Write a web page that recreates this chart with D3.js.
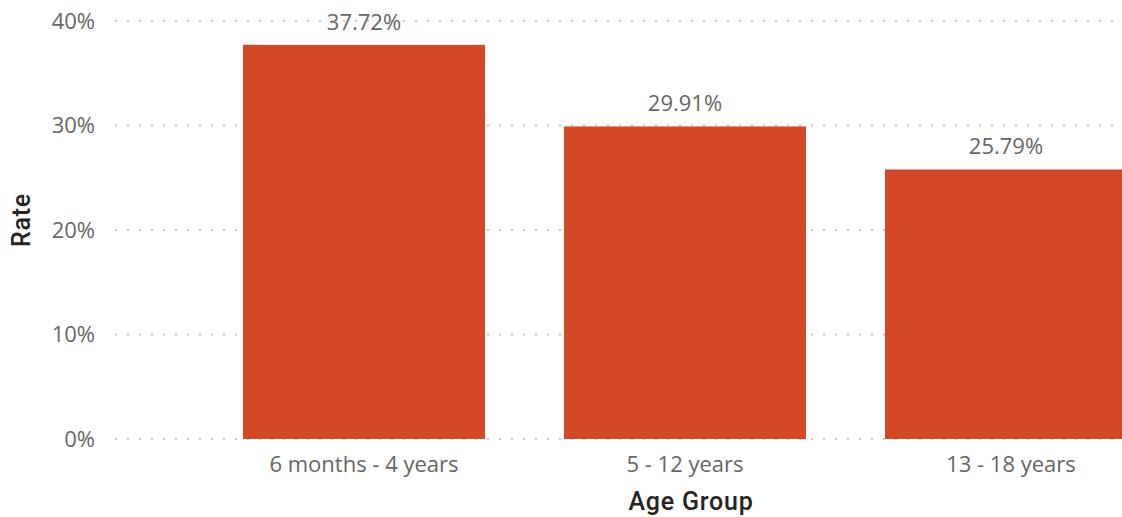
<!DOCTYPE html>
<html><head><meta charset="utf-8">
<script src="https://cdn.jsdelivr.net/npm/d3@7/dist/d3.min.js"></script>
<style>body{margin:0;background:#fff;overflow:hidden}</style>
</head><body>
<svg id="c" width="1122" height="517"></svg>
<script>
const categories = ["6 months - 4 years", "5 - 12 years", "13 - 18 years"];
const rates = [37.72, 29.91, 25.79];
const yTicks = [0, 10, 20, 30, 40];

const svg = d3.select("#c");
const font = "'Open Sans', 'Noto Sans', sans-serif";
const y = d3.scaleLinear().domain([0, 40]).range([439, 21]);
const x = d3.scaleBand().domain(categories).range([203.5, 1166.5]).paddingInner(0.246).paddingOuter(0.123);

// gridlines
svg.append("g").selectAll("line").data(yTicks).join("line")
  .attr("x1", 115).attr("x2", 1122)
  .attr("y1", d => y(d)).attr("y2", d => y(d))
  .attr("stroke", "#c8c8c8").attr("stroke-width", 2)
  .attr("stroke-dasharray", "2,10");

// y tick labels
svg.append("g").selectAll("text").data(yTicks).join("text")
  .attr("x", 95).attr("y", d => y(d)).attr("dy", "0.35em")
  .attr("text-anchor", "end").attr("fill", "#666666")
  .style("font-family", font).style("font-size", "22px")
  .text(d => d + "%");

// bars
svg.append("g").selectAll("rect").data(rates).join("rect")
  .attr("x", (d, i) => x(categories[i])).attr("width", x.bandwidth())
  .attr("y", d => y(d)).attr("height", d => y(0) - y(d))
  .attr("fill", "#d34826");

// data labels
svg.append("g").selectAll("text").data(rates).join("text")
  .attr("x", (d, i) => x(categories[i]) + x.bandwidth() / 2)
  .attr("y", d => y(d) - 15)
  .attr("text-anchor", "middle").attr("fill", "#666666")
  .style("font-family", font).style("font-size", "22px")
  .text(d => d.toFixed(2) + "%");

// x labels
svg.append("g").selectAll("text").data(categories).join("text")
  .attr("x", (d, i) => x(d) + x.bandwidth() / 2 + (i === 2 ? 5 : 0)).attr("y", 472)
  .attr("text-anchor", "middle").attr("fill", "#666666")
  .style("font-family", font).style("font-size", "22px")
  .text(d => d);

// axis titles
svg.append("text").attr("x", 691).attr("y", 510).attr("text-anchor", "middle")
  .attr("fill", "#252423").style("font-family", "Roboto, sans-serif")
  .style("font-size", "25px").style("font-weight", 500).style("letter-spacing", "0.8px").text("Age Group");
svg.append("text").attr("transform", "translate(30,220) rotate(-90)").attr("text-anchor", "middle")
  .attr("fill", "#252423").style("font-family", "Roboto, sans-serif")
  .style("font-size", "25px").style("font-weight", 500).style("letter-spacing", "0.8px").text("Rate");
</script>
</body></html>
